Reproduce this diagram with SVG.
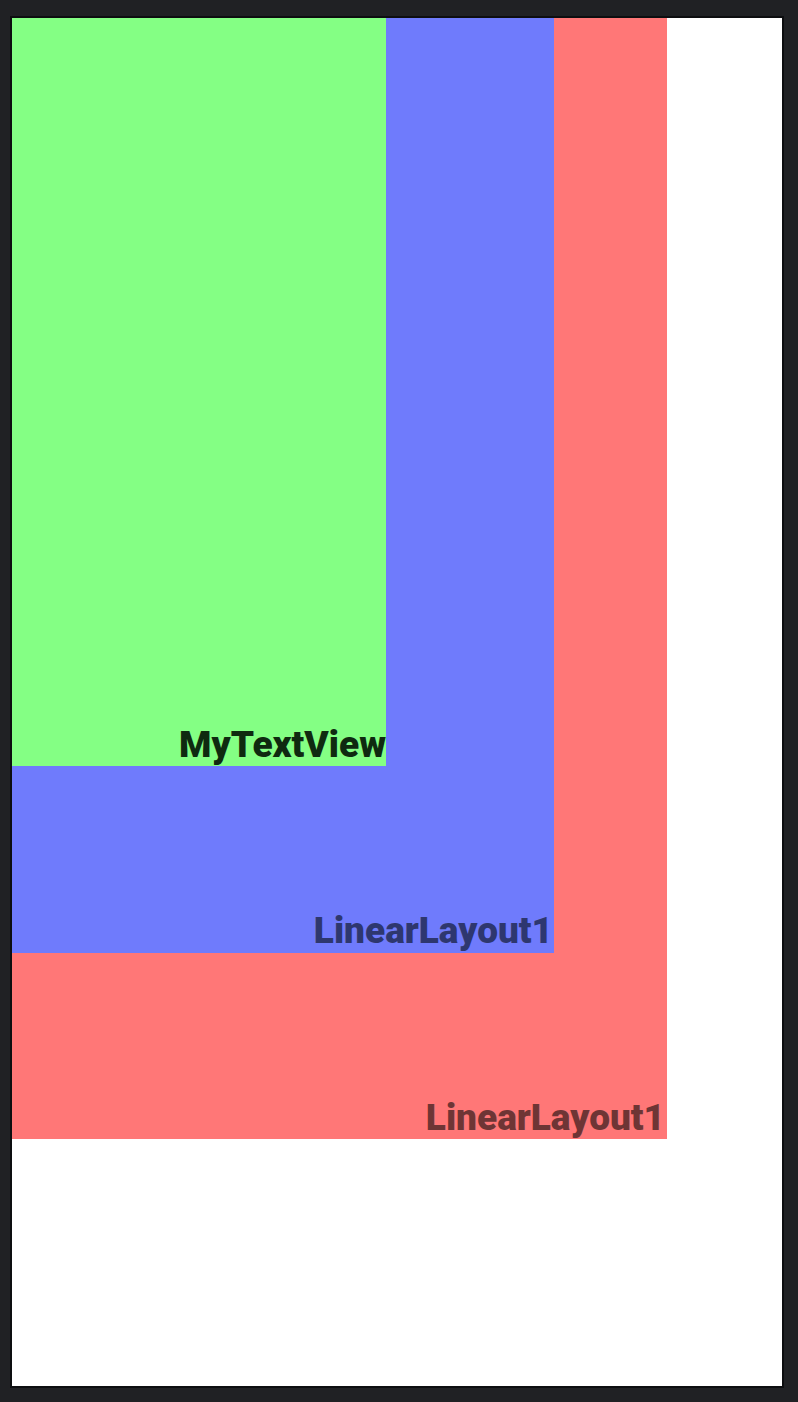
<svg xmlns="http://www.w3.org/2000/svg" width="798" height="1402" viewBox="0 0 798 1402">
<style>
.lbl{font-family:Roboto,"Liberation Sans",sans-serif;font-weight:900;font-size:37px;text-anchor:end}
</style>
<rect x="0" y="0" width="798" height="1402" fill="#202124"/>
<rect x="10" y="16" width="774" height="1372" fill="#0d0e10"/>
<rect x="12" y="18" width="770" height="1368" fill="#ffffff"/>
<g id="outer-layout">
<rect x="12" y="18" width="655" height="1121" fill="#ff7777"/>
<text class="lbl" x="665" y="1130" fill="#6e3535">LinearLayout1</text>
</g>
<g id="inner-layout">
<rect x="12" y="18" width="542" height="935" fill="#6f7bfc"/>
<text class="lbl" x="553" y="943" fill="#2e376f">LinearLayout1</text>
</g>
<g id="mytextview">
<rect x="12" y="18" width="374" height="748" fill="#84ff84"/>
<text class="lbl" x="386" y="757" fill="#0f2a10">MyTextView</text>
</g>
<g id="connectors"/>
</svg>
